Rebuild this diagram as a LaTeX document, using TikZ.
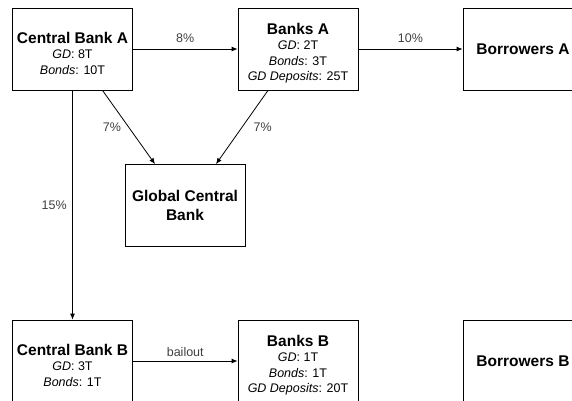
\documentclass[tikz,border=0pt]{standalone}
\usepackage{fontspec}
\setmainfont{Liberation Sans}
\usetikzlibrary{arrows.meta}
\newcommand{\boxtitle}[1]{{\fontsize{15.5}{18.5}\selectfont\bfseries\rule{0pt}{20pt}#1}}
\begin{document}
\begin{tikzpicture}[x = 1pt, y = -1pt,
   agent/.style = {draw, line width = 0.8pt, minimum width = 120pt, minimum height = 82pt, align = center, font = \fontsize{12.5}{15.5}\selectfont},
   titleonly/.style = {agent, font = \fontsize{15.5}{19}\selectfont\bfseries},
   flow/.style = {line width = 0.8pt, -{Latex[length = 6pt, width = 5pt]}},
   rate/.style = {font = \fontsize{12.5}{15}\selectfont, text = black!75}]
\useasboundingbox (0,0) rectangle (572,400);

\node[agent] (cbA) at (72.5, 49) {\boxtitle{Central Bank A}\\ \textit{GD}: 8T\\ \textit{Bonds}: 10T};
\node[agent] (bA) at (298, 49) {\boxtitle{Banks A}\\ \textit{GD}: 2T\\ \textit{Bonds}: 3T\\ \textit{GD Deposits}: 25T};
\node[titleonly] (borA) at (523, 49) {Borrowers A};
\node[titleonly] (gcb) at (185, 205.5) {Global Central\\ Bank};
\node[agent] (cbB) at (72.5, 361) {\boxtitle{Central Bank B}\\ \textit{GD}: 3T\\ \textit{Bonds}: 1T};
\node[agent] (bB) at (298, 361) {\boxtitle{Banks B}\\ \textit{GD}: 1T\\ \textit{Bonds}: 1T\\ \textit{GD Deposits}: 20T};
\node[titleonly] (borB) at (523, 361) {Borrowers B};

\draw[flow] (cbA) -- (bA) node[rate, midway, above = 3pt] {8\%};
\draw[flow] (bA) -- (borA) node[rate, midway, above = 3pt] {10\%};
\draw[flow] ([xshift = 30pt]cbA.south) -- ([xshift = -30pt]gcb.north) node[rate, midway, left = 4pt] {7\%};
\draw[flow] ([xshift = -30pt]bA.south) -- ([xshift = 31pt]gcb.north) node[rate, midway, right = 8pt] {7\%};
\draw[flow] (cbA) -- (cbB) node[rate, midway, left = 2pt] {15\%};
\draw[flow] (cbB) -- (bB) node[rate, midway, above = 1pt] {bailout};
\end{tikzpicture}
\end{document}
